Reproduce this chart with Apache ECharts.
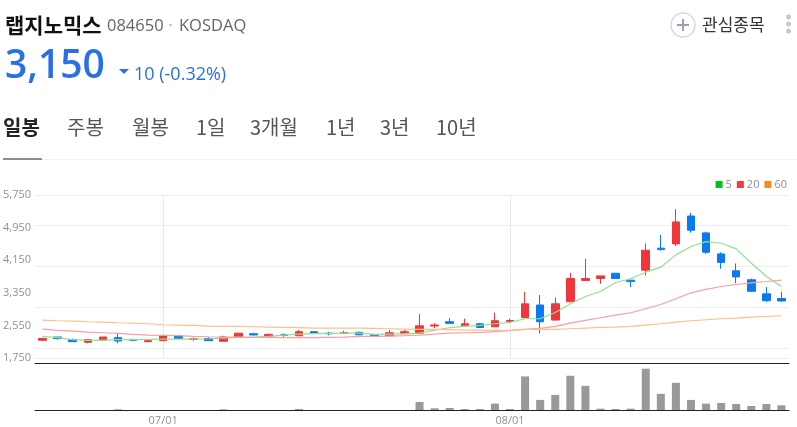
<!DOCTYPE html>
<html>
<head>
<meta charset="utf-8">
<style>
html, body { margin: 0; padding: 0; background: #fff; }
#chart { width: 797px; height: 427px; }
</style>
<script src="https://cdn.jsdelivr.net/npm/echarts@6/dist/echarts.min.js"></script>
</head>
<body>
<div id="chart"></div>
<script>
var FONT = '"Open Sans", "Noto Sans CJK KR", sans-serif';
var KR_FONT = '"Noto Sans CJK KR", sans-serif';

var dates = ['06/19', '06/20', '06/21', '06/24', '06/25', '06/26', '06/27', '06/28',
    '07/01', '07/02', '07/03', '07/04', '07/05', '07/08', '07/09', '07/10', '07/11', '07/12',
    '07/15', '07/16', '07/17', '07/18', '07/19', '07/22', '07/23', '07/24', '07/25', '07/26',
    '07/29', '07/30', '07/31', '08/01', '08/02', '08/05', '08/06', '08/07', '08/08', '08/09',
    '08/12', '08/13', '08/14', '08/16', '08/19', '08/20', '08/21', '08/22', '08/23', '08/26',
    '08/27', '08/28'];
var dateLabels = ['07/01', '08/01'];
var priceTicks = [1750, 2550, 3350, 4150, 4950, 5750];

// open, close, low, high
var candles = [
    [2185, 2230, 2165, 2250], [2265, 2225, 2200, 2265], [2200, 2150, 2140, 2225], [2135, 2200, 2110, 2200],
    [2190, 2265, 2190, 2265], [2250, 2165, 2110, 2340], [2200, 2185, 2160, 2225], [2150, 2175, 2140, 2200],
    [2175, 2295, 2175, 2300], [2295, 2225, 2215, 2320], [2205, 2225, 2165, 2250], [2230, 2175, 2175, 2265],
    [2160, 2265, 2160, 2295], [2265, 2360, 2250, 2360], [2345, 2315, 2305, 2370], [2280, 2330, 2280, 2345],
    [2320, 2305, 2270, 2355], [2295, 2395, 2295, 2435], [2395, 2355, 2340, 2395], [2360, 2345, 2305, 2395],
    [2355, 2370, 2345, 2420], [2380, 2320, 2305, 2395], [2320, 2280, 2270, 2340], [2295, 2370, 2280, 2435],
    [2345, 2395, 2340, 2435], [2360, 2540, 2360, 2835], [2535, 2560, 2485, 2605], [2640, 2600, 2600, 2730],
    [2540, 2590, 2540, 2715], [2590, 2500, 2500, 2605], [2515, 2665, 2515, 2860], [2650, 2670, 2605, 2715],
    [2740, 3080, 2740, 3375], [3050, 2640, 2355, 3295], [2680, 3080, 2680, 3230], [3130, 3700, 3130, 3840],
    [3650, 3700, 3650, 4185], [3700, 3765, 3570, 3765], [3830, 3700, 3700, 3830], [3660, 3625, 3490, 3660],
    [3905, 4395, 3775, 4560], [4445, 4410, 4385, 4770], [4550, 5090, 4500, 5405], [5235, 4885, 4825, 5310],
    [4820, 4345, 4305, 4850], [4305, 4095, 3940, 4345], [3890, 3740, 3585, 4070], [3670, 3385, 3385, 3700],
    [3325, 3155, 3130, 3490], [3210, 3150, 3130, 3375]
];
var ma5 = [2281, 2248, 2199, 2183, 2191, 2199, 2199, 2207, 2215, 2215, 2215, 2223, 2240, 2256, 2264, 2281,
    2313, 2338, 2346, 2354, 2362, 2362, 2330, 2338, 2346, 2362, 2436, 2493, 2525, 2550, 2591, 2623,
    2713, 2713, 2868, 3081, 3260, 3383, 3603, 3693, 3856, 3979, 4281, 4485, 4607, 4566, 4427, 4076, 3750, 3505];
var ma20 = [2460, 2428, 2411, 2387, 2370, 2354, 2330, 2313, 2305, 2297, 2281, 2272, 2264, 2264, 2256, 2256,
    2248, 2248, 2248, 2256, 2264, 2281, 2281, 2289, 2297, 2313, 2338, 2362, 2370, 2379, 2395, 2419,
    2452, 2477, 2525, 2607, 2672, 2738, 2803, 2860, 2958, 3064, 3203, 3350, 3432, 3505, 3554, 3595, 3627, 3660];
var ma60 = [2681, 2664, 2656, 2640, 2632, 2615, 2607, 2591, 2566, 2558, 2550, 2534, 2525, 2525, 2517, 2509,
    2501, 2493, 2485, 2485, 2485, 2485, 2477, 2468, 2460, 2452, 2452, 2444, 2436, 2436, 2428, 2436,
    2452, 2452, 2452, 2468, 2485, 2501, 2509, 2525, 2558, 2591, 2632, 2664, 2689, 2713, 2730, 2754, 2770, 2787];
var volumes = [0, 0, 0, 0, 0, 20, 0, 0, 0, 0, 0, 0, 20, 0, 0, 0, 0, 30, 0, 0, 0, 0, 0, 0, 0,
    240, 50, 60, 30, 30, 190, 30, 1000, 300, 450, 1020, 720, 40, 30, 40, 1230, 480, 810, 300, 190, 210, 180, 120, 180, 140];

var tabs = ['일봉', '주봉', '월봉', '1일', '3개월', '1년', '3년', '10년'];
var tabX = [3, 67, 132, 196, 250, 326, 380, 436];

function isDateLabel(index, value) {
    return dateLabels.indexOf(value) >= 0;
}

function label(text, x, y, size, color, weight, family) {
    return {
        type: 'text',
        x: x,
        y: y,
        style: {
            text: text,
            fill: color,
            font: (weight || 'normal') + ' ' + size + 'px ' + (family || FONT),
            verticalAlign: 'middle'
        }
    };
}

var header = [
    label('랩지노믹스', 5, 25, 21, '#111', 'bold', KR_FONT),
    label('084650', 107, 26, 16.5, '#666'),
    { type: 'circle', shape: { cx: 170.5, cy: 25, r: 1.3 }, style: { fill: '#bbb' } },
    label('KOSDAQ', 179, 26, 16.5, '#666'),
    label('3,150', 5, 67, 39, '#2a6fe6', '600'),
    { type: 'polygon', shape: { points: [[119, 69], [129, 69], [124, 74]] }, style: { fill: '#2a6fe6' } },
    label('10 (-0.32%)', 134, 75, 18, '#2a6fe6'),
    { type: 'circle', shape: { cx: 683, cy: 25, r: 12 }, style: { fill: '#fff', stroke: '#d5d9e2', lineWidth: 1.5 } },
    { type: 'rect', shape: { x: 677, y: 24, width: 12, height: 2 }, style: { fill: '#9aa1b0' } },
    { type: 'rect', shape: { x: 682, y: 19, width: 2, height: 12 }, style: { fill: '#9aa1b0' } },
    label('관심종목', 702, 25, 17, '#333', 'normal', KR_FONT),
    { type: 'circle', shape: { cx: 788.5, cy: 17, r: 2.5 }, style: { fill: '#c4c8d0' } },
    { type: 'circle', shape: { cx: 788.5, cy: 24, r: 2.5 }, style: { fill: '#c4c8d0' } },
    { type: 'circle', shape: { cx: 788.5, cy: 31, r: 2.5 }, style: { fill: '#c4c8d0' } },
    { type: 'rect', shape: { x: 3, y: 159, width: 794, height: 1 }, style: { fill: '#f2f2f2' } },
    { type: 'rect', shape: { x: 3, y: 158.5, width: 39, height: 1 }, style: { fill: '#222' } }
];
tabs.forEach(function (name, i) {
    header.push(label(name, tabX[i], 127, 20, i === 0 ? '#222' : '#555', i === 0 ? 'bold' : 'normal', KR_FONT));
});

var chart = echarts.init(document.getElementById('chart'));
chart.setOption({
    animation: false,
    backgroundColor: '#fff',
    textStyle: { fontFamily: FONT },
    graphic: header,
    legend: {
        right: 5,
        top: 174,
        icon: 'rect',
        itemWidth: 7,
        itemHeight: 7,
        itemGap: 5,
        textStyle: { color: '#8a8f98', fontSize: 11, padding: [0, 0, 0, -2] },
        selectedMode: false,
        data: [
            { name: '5', itemStyle: { color: '#00c41a' } },
            { name: '20', itemStyle: { color: '#f53b3b' } },
            { name: '60', itemStyle: { color: '#f98b1e' } }
        ]
    },
    grid: [
        { left: 35, top: 195, width: 754, height: 163 },
        { left: 35, top: 363, width: 754, height: 47 }
    ],
    xAxis: [
        {
            type: 'category',
            gridIndex: 0,
            data: dates,
            offset: 5,
            axisLine: { lineStyle: { color: '#222', width: 1 } },
            axisTick: { show: false },
            axisLabel: { show: false },
            splitLine: { show: true, alignWithLabel: true, interval: isDateLabel, lineStyle: { color: '#e6e9ed', width: 1 } }
        },
        {
            type: 'category',
            gridIndex: 1,
            data: dates,
            axisLine: { lineStyle: { color: '#222', width: 1 } },
            axisTick: { alignWithLabel: true, interval: isDateLabel, length: 4, lineStyle: { color: '#555', width: 1.5 } },
            axisLabel: { interval: isDateLabel, color: '#8a929c', fontSize: 11, margin: 5 }
        }
    ],
    yAxis: [
        {
            type: 'value',
            gridIndex: 0,
            min: 1750,
            max: 5750,
            axisLine: { show: false },
            axisTick: { show: false },
            axisLabel: {
                customValues: priceTicks,
                color: '#8a929c',
                fontSize: 11,
                margin: 4,
                formatter: function (v) { return v.toLocaleString('en-US'); }
            },
            splitLine: { show: true, customValues: priceTicks, lineStyle: { color: '#ebeef2', width: 1 } }
        },
        {
            type: 'value',
            gridIndex: 1,
            min: 0,
            max: 1400,
            show: false,
            splitLine: { show: false }
        }
    ],
    series: [
        {
            type: 'candlestick',
            name: 'price',
            data: candles,
            barWidth: 8,
            itemStyle: {
                color: '#f0363c',
                color0: '#0a7af0',
                borderColor: '#f0363c',
                borderColor0: '#0a7af0',
                borderWidth: 1
            }
        },
        { type: 'line', name: '5', data: ma5, showSymbol: false, lineStyle: { color: '#8fe28f', width: 1.2 } },
        { type: 'line', name: '20', data: ma20, showSymbol: false, lineStyle: { color: '#ff9da0', width: 1.2 } },
        { type: 'line', name: '60', data: ma60, showSymbol: false, lineStyle: { color: '#fdc08a', width: 1.2 } },
        {
            type: 'bar',
            name: 'volume',
            xAxisIndex: 1,
            yAxisIndex: 1,
            data: volumes,
            barWidth: 8,
            itemStyle: { color: '#999999' }
        }
    ]
});
</script>
</body>
</html>
